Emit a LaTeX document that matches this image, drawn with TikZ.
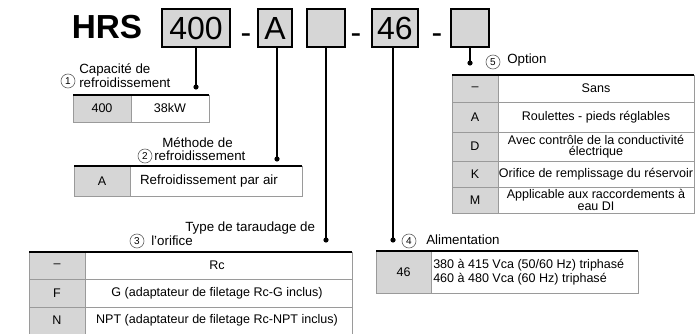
\documentclass[tikz,border=0pt]{standalone}
\usepackage{fontspec}
\setmainfont{Liberation Sans}
\usetikzlibrary{positioning}
\definecolor{cellgray}{HTML}{D6D6D6}
\definecolor{rulegray}{HTML}{9A9A9A}

\begin{document}
\begin{tikzpicture}[x=0.75pt, y=-0.75pt, every node/.style={inner sep=0pt, font=\fontsize{9.4}{10}\selectfont},
	codebox/.style={draw=black, line width=1.1pt, fill=cellgray, minimum height=28.5pt, font=\fontsize{24}{24}\selectfont},
	dashsign/.style={anchor=base, font=\fontsize{24}{24}\selectfont},
	circnum/.style={draw=gray!80!black, line width=0.5pt, circle, minimum size=10.5pt, font=\fontsize{7.5}{7.5}\selectfont},
	lbl/.style={font=\fontsize{10}{11}\selectfont, anchor=west}]
	\useasboundingbox (0,0) rectangle (696,334);
	% model code
	\node[font=\bfseries\fontsize{25}{25}\selectfont] (hrs) at (107,27) {HRS};
	\node[codebox, minimum width=51pt] (b400) at (196,28) {400};
	\node[dashsign] (d1) at (246,44) {-};
	\node[codebox, minimum width=25.5pt] (bA) at (275,28) {A};
	\node[codebox, minimum width=28.5pt] (b3) at (326,28) {};
	\node[dashsign] (d2) at (356,44) {-};
	\node[codebox, minimum width=34.5pt] (b46) at (395,28) {46};
	\node[dashsign] (d3) at (437,44) {-};
	\node[codebox, minimum width=28.5pt] (b5) at (470,28) {};
	% leader lines
	\coordinate (p1) at (196,87);
	\coordinate (p2) at (277,159);
	\coordinate (p3) at (326,240);
	\coordinate (p4) at (393,240);
	\coordinate (p5) at (470,63);
	\draw[line width=1.2pt] (b400.south) -- (p1);
	\draw[line width=1.2pt] (p2 |- bA.south) -- (p2);
	\draw[line width=1.2pt] (b3.south) -- (p3);
	\draw[line width=1.2pt] (p4 |- b46.south) -- (p4);
	\draw[line width=1.2pt] (b5.south) -- (p5);
	\foreach \p in {p1,p2,p3,p4,p5} {\fill (\p) circle (2.6);}
	
	% 1 capacity
	\node[circnum] (c1) at (68,81) {1};
	\node[lbl, align=left] (t1) at (79,75.5) {Capacité de\\refroidissement};
	\fill[cellgray] (73,95) rectangle (131,122);
	\draw[rulegray] (73,95) rectangle (209,122) (131,95) -- (131,122);
	\draw[line width=1.4pt] (73,95) -- (209,95);
	\node (k1) at (102,108.5) {400};
	\node (v1) at (170,108.5) {38kW};
	
	% 2 cooling method
	\node[circnum] (c2) at (145,156) {2};
	\node[lbl] (t2a) at (162,143) {Méthode de};
	\node[lbl] (t2b) at (154,156) {refroidissement};
	\fill[cellgray] (74,166) rectangle (130,196);
	\draw[rulegray] (74,166) rectangle (302,196) (130,166) -- (130,196);
	\draw[line width=1.4pt] (74,166) -- (302,166);
	\node (k2) at (102,181) {A};
	\node[font=\fontsize{10}{11}\selectfont] (v2) at (209,181) {Refroidissement par air};
	
	% 3 port thread
	\node[circnum] (c3) at (137,241) {3};
	\node[lbl] (t3a) at (185,228) {Type de taraudage de};
	\node[lbl] (t3b) at (151,241) {l'orifice};
	\fill[cellgray] (29,252) rectangle (85,334);
	\draw[rulegray] (29,334) -- (29,252) -- (352,252) -- (352,334) (85,252) -- (85,334);
	\foreach \y in {279,307} {\draw[rulegray] (29,\y) -- (352,\y);}
	\draw[line width=1.4pt] (29,252) -- (352,252);
	\foreach \y/\k/\t [count=\i] in {265.5/–/Rc, 293/F/G (adaptateur de filetage Rc-G inclus), 320.5/N/NPT (adaptateur de filetage Rc-NPT inclus)}
		{\node (k3\i) at (57,\y) {\k}; \node (v3\i) at (217,\y) {\t};}
	
	% 4 power supply
	\node[circnum] (c4) at (409,241) {4};
	\node[lbl] (t4) at (426,240) {Alimentation};
	\fill[cellgray] (376,251) rectangle (431,293);
	\draw[rulegray] (376,251) rectangle (638,293) (431,251) -- (431,293);
	\draw[line width=1.4pt] (376,251) -- (638,251);
	\node (k4) at (403.5,272) {46};
	\node[anchor=west, align=left, font=\fontsize{9.4}{10.5}\selectfont] (v4) at (433,272) {380 à 415 Vca (50/60 Hz) triphasé\\460 à 480 Vca (60 Hz) triphasé};
	
	% 5 option
	\node[circnum] (c5) at (493,62) {5};
	\node[lbl] (t5) at (507,60) {Option};
	\fill[cellgray] (452,75) rectangle (498,213);
	\draw[rulegray] (452,75) rectangle (694,213) (498,75) -- (498,213);
	\foreach \y in {102,132,161,187} {\draw[rulegray] (452,\y) -- (694,\y);}
	\draw[line width=1.4pt] (452,75) -- (694,75);
	\foreach \y/\k/\t [count=\i] in {88.5/–/Sans, 117/A/Roulettes - pieds réglables, 146.5/D/{Avec contrôle de la conductivité\\électrique}, 174/K/Orifice de remplissage du réservoir, 200/M/{Applicable aux raccordements à\\eau DI}}
		{\node (k5\i) at (475,\y) {\k}; \node[align=center, font=\fontsize{9.4}{8.5}\selectfont] (v5\i) at (596,\y) {\t};}
	
\end{tikzpicture}
\end{document}
